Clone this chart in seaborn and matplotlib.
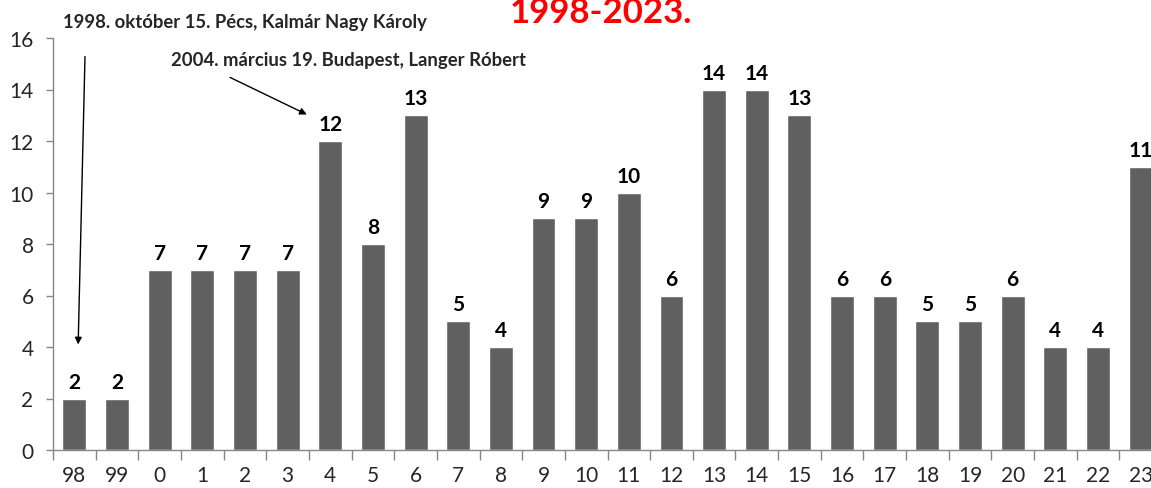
import pandas as pd
import seaborn as sns
import matplotlib.pyplot as plt

years = ["98", "99", "0", "1", "2", "3", "4", "5", "6", "7", "8", "9", "10",
         "11", "12", "13", "14", "15", "16", "17", "18", "19", "20", "21", "22", "23"]
counts = [2, 2, 7, 7, 7, 7, 12, 8, 13, 5, 4, 9, 9, 10, 6, 14, 14, 13, 6, 6, 5, 5, 6, 4, 4, 11]
yticks = [0, 2, 4, 6, 8, 10, 12, 14, 16]

title = "1998-2023."
note_1998 = "1998. október 15. Pécs, Kalmár Nagy Károly"
note_2004 = "2004. március 19. Budapest, Langer Róbert"

sns.set_theme(style="white")
plt.rcParams["font.family"] = ["Lato", "DejaVu Sans"]

df = pd.DataFrame({"year": years, "count": counts})

fig = plt.figure(figsize=(11.51, 4.89), dpi=100)
ax = fig.add_axes([53 / 1151, 38 / 489, 1109 / 1151, 412 / 489])

sns.barplot(data=df, x="year", y="count", color="#606060", width=0.56,
            saturation=1, ax=ax, order=years)
for c in ax.containers:
    ax.bar_label(c, fontsize=15, fontweight="bold", padding=5, color="black")

ax.set_ylim(0, 16)
ax.set_xlim(-0.5, len(years) - 0.5)
ax.set_yticks(yticks)
ax.set_xlabel("")
ax.set_ylabel("")
sns.despine(ax=ax, top=True, right=True)
for s in ["left", "bottom"]:
    ax.spines[s].set_color("#868686")
    ax.spines[s].set_linewidth(1)

ax.tick_params(axis="y", length=5, width=1, color="#868686", direction="out",
               labelsize=15, pad=9, left=True)
ax.tick_params(axis="x", which="major", length=0, labelsize=15, pad=11)
ax.set_xticks([i + 0.5 for i in range(-1, len(years))], minor=True)
ax.tick_params(axis="x", which="minor", length=7, width=1, color="#868686",
               direction="out", bottom=True)

# title sits partly above the top edge, as in the source image
fig.text(0.522, 1 - 23 / 489, title, color="red", fontsize=25, fontweight="bold",
         ha="center", va="baseline")

ax.text(-0.27, 16.64, note_1998, fontsize=13.3, fontweight="bold", ha="left",
        va="center", clip_on=False)
ax.text(2.27, 15.17, note_2004, fontsize=13.3, fontweight="bold", ha="left",
        va="center", clip_on=False)

arrow = dict(arrowstyle="-|>", color="black", lw=1, mutation_scale=10,
             shrinkA=0, shrinkB=0)
ax.annotate("", xy=(0.09, 4.1), xytext=(0.25, 15.28), arrowprops=arrow,
            annotation_clip=False)
ax.annotate("", xy=(5.45, 13.03), xytext=(3.65, 14.47), arrowprops=arrow,
            annotation_clip=False)

fig.savefig("out.png", dpi=100)
